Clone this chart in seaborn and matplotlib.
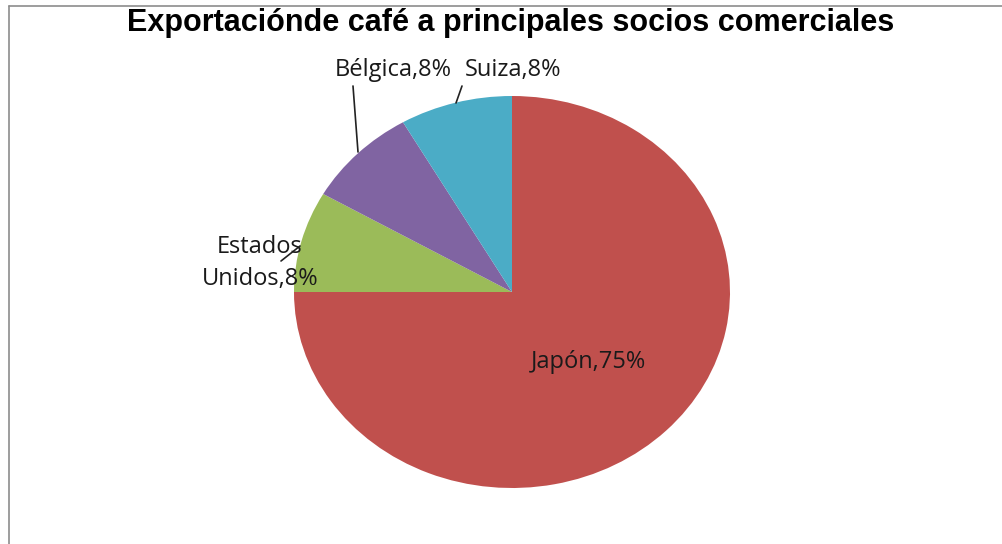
import matplotlib
matplotlib.use("Agg")
import matplotlib.pyplot as plt
import seaborn as sns
from matplotlib.lines import Line2D

categories = ["Japón", "Estados Unidos", "Bélgica", "Suiza"]
values = [9, 1, 1, 1]
title = "Exportaciónde café a principales socios comerciales"
colors = ["#C0504D", "#9BBB59", "#8064A2", "#4BACC6"]

sns.set_theme(style="white")
plt.rcParams['font.family'] = ['Open Sans', 'DejaVu Sans']

W, H = 1002, 544
fig = plt.figure(figsize=(W / 100, H / 100), dpi=100)
fig.patch.set_facecolor("white")
ax = fig.add_axes([0, 0, 1, 1])

CX, CY, RX, RY = 512, 292, 218, 196


def P(px, py):
    return ((px - CX) / RX, (CY - py) / RY)


palette = sns.color_palette(colors)
ax.pie(values, colors=palette, startangle=90, counterclock=False,
       radius=1.0, center=(0, 0), wedgeprops=dict(linewidth=0))
ax.set_aspect("auto")
x0, _ = P(0, 0)
x1, _ = P(W, 0)
_, ytop = P(0, 0)
_, ybot = P(0, H)
ax.set_xlim(x0, x1)
ax.set_ylim(ybot, ytop)
ax.axis("off")

total = sum(values)
pct = [round(v / total * 100) for v in values]
labels = [f"{c},{p}%" for c, p in zip(categories, pct)]
labels[1] = "Estados\nUnidos,{}%".format(pct[1])

fs = 17
lab_pos = [(588, 362), (260, 263), (393, 70), (513, 70)]
for lab, (px, py) in zip(labels, lab_pos):
    ax.text(*P(px, py), lab, ha="center", va="center", fontsize=fs,
            color="#1a1a1a", linespacing=1.45)

# leader lines
leaders = [((353, 86), (358, 152)), ((462, 86), (456, 103)), ((281, 261), (300, 246))]
for (a, b) in leaders:
    (xa, ya), (xb, yb) = P(*a), P(*b)
    ax.plot([xa, xb], [ya, yb], color="#222222", lw=1.2)

fig.text(511 / W, 1 - 23 / H, title, ha="center", va="center",
         fontsize=22, fontweight="bold", family=["Liberation Sans", "DejaVu Sans"],
         color="black")

# chart area border (top and left)
fig.add_artist(Line2D([9 / W, 1], [1 - 6 / H, 1 - 6 / H], color="#8c8c8c", lw=1.2,
                      transform=fig.transFigure))
fig.add_artist(Line2D([9 / W, 9 / W], [0, 1 - 6 / H], color="#8c8c8c", lw=1.2,
                      transform=fig.transFigure))

fig.savefig("out.png", dpi=100, facecolor="white")
